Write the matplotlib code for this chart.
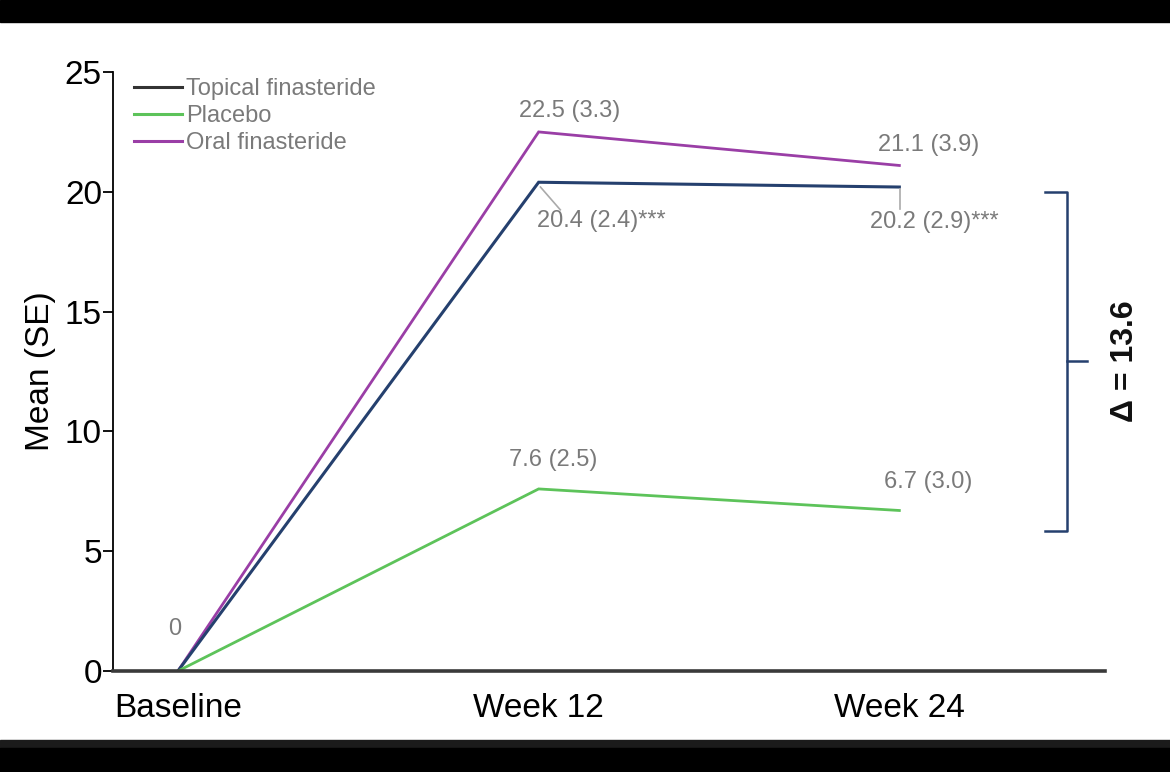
import matplotlib.pyplot as plt
from matplotlib.lines import Line2D
from matplotlib.patches import Rectangle

# ---------- Data ----------
timepoints = ["Baseline", "Week 12", "Week 24"]
topical = [0, 20.4, 20.2]
placebo = [0, 7.6, 6.7]
oral = [0, 22.5, 21.1]

topical_se = [None, 2.4, 2.9]
placebo_se = [None, 2.5, 3.0]
oral_se = [None, 3.3, 3.9]

delta = 13.6

# ---------- Style ----------
NAVY = "#25406e"
GREEN = "#5dc35a"
PURPLE = "#9a3ea6"
GRAY = "#7a7a7a"

plt.rcParams["font.family"] = ["Liberation Sans", "DejaVu Sans"]

fig = plt.figure(figsize=(11.7, 7.72), dpi=100)
ax = fig.add_axes([0.0966, 0.1308, 0.8478, 0.7759])

# letterbox bands of the screenshot
fig.patches.append(Rectangle((0, 1 - 22 / 772), 1, 22 / 772, transform=fig.transFigure,
                             color="black", zorder=0))
fig.patches.append(Rectangle((0, 0), 1, 32 / 772, transform=fig.transFigure,
                             color="#1b1b1b", zorder=0))
fig.patches.append(Rectangle((0, 0), 1, 24 / 772, transform=fig.transFigure,
                             color="black", zorder=0))

x = list(range(len(timepoints)))
ax.plot(x, oral, color=PURPLE, lw=2.0, solid_joinstyle="miter")
ax.plot(x, topical, color=NAVY, lw=2.2, solid_joinstyle="miter")
ax.plot(x, placebo, color=GREEN, lw=2.0, solid_joinstyle="miter")

ax.set_xlim(-0.18, 2.57)
ax.set_ylim(0, 25)
ax.set_xticks(x)
ax.set_xticklabels(timepoints, fontsize=24)
ax.tick_params(axis="x", length=0, pad=16)
ax.set_yticks([0, 5, 10, 15, 20, 25])
ax.tick_params(axis="y", labelsize=24, length=7, width=1.3, direction="out", pad=1)
ax.set_ylabel("Mean (SE)", fontsize=24, labelpad=6)

for s in ["top", "right"]:
    ax.spines[s].set_visible(False)
ax.spines["left"].set_linewidth(1.3)
ax.spines["bottom"].set_linewidth(2.6)
ax.spines["bottom"].set_color("#3a3a3a")

lab = dict(fontsize=17, color=GRAY)

# baseline value
ax.text(-0.01, 1.3, "0", ha="center", va="bottom", **lab)

# oral labels (above)
ax.text(x[1] + 0.085, oral[1] + 0.4, f"{oral[1]} ({oral_se[1]})", ha="center", va="bottom", **lab)
ax.text(x[2] + 0.08, oral[2] + 0.4, f"{oral[2]} ({oral_se[2]})", ha="center", va="bottom", **lab)

# topical labels (below, with leader lines)
ax.plot([x[1] + 0.005, x[1] + 0.06], [topical[1] - 0.2, topical[1] - 1.15], color="#aaaaaa", lw=1.2)
ax.text(x[1] - 0.005, topical[1] - 1.15, f"{topical[1]} ({topical_se[1]})***", ha="left", va="top", **lab)
ax.plot([x[2] + 0.003, x[2] + 0.003], [topical[2] - 0.1, topical[2] - 0.9], color="#aaaaaa", lw=1.2)
ax.text(x[2] - 0.08, topical[2] - 1.0, f"{topical[2]} ({topical_se[2]})***", ha="left", va="top", **lab)

# placebo labels (above)
ax.text(x[1] + 0.04, placebo[1] + 0.75, f"{placebo[1]} ({placebo_se[1]})", ha="center", va="bottom", **lab)
ax.text(x[2] + 0.08, placebo[2] + 0.75, f"{placebo[2]:.1f} ({placebo_se[2]:.1f})", ha="center", va="bottom", **lab)

# bracket for the difference
bx = 2.465
top, bot = 20.0, 5.85
mid = (top + bot) / 2
ax.plot([bx - 0.06, bx, bx, bx - 0.06], [top, top, bot, bot], color=NAVY, lw=1.8, clip_on=False)
ax.plot([bx, bx + 0.055], [mid, mid], color=NAVY, lw=1.8, clip_on=False)
ax.text(2.625, mid, f"\u0394 = {delta}", rotation=90, ha="center", va="center",
        fontsize=23, fontweight="bold", color="#111111", clip_on=False)

handles = [
    Line2D([], [], color="#333333", lw=2.2),
    Line2D([], [], color=GREEN, lw=2.2),
    Line2D([], [], color=PURPLE, lw=2.2),
]
ax.legend(handles, ["Topical finasteride", "Placebo", "Oral finasteride"],
          loc="upper left", bbox_to_anchor=(0.012, 1.005), frameon=False, fontsize=17,
          labelcolor=GRAY, handlelength=2.0, handletextpad=0.2, labelspacing=0.2,
          borderaxespad=0.0)

fig.savefig("out.png", dpi=100, facecolor="white")
